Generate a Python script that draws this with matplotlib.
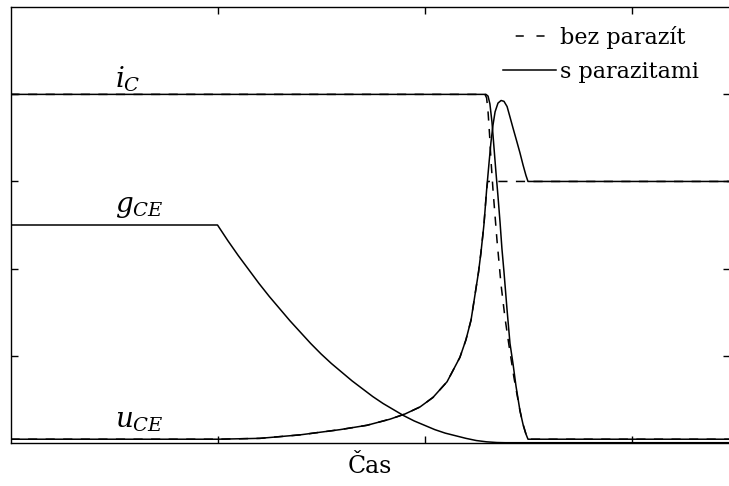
import matplotlib.pyplot as plt
import numpy as np

plt.rcParams['font.family'] = ['DejaVu Serif']
plt.rcParams['mathtext.fontset'] = 'dejavuserif'

# values (time in tick units, amplitude in tick units)
t_g = [0.0, 1.0, 1.05, 1.1, 1.15, 1.2, 1.25, 1.3, 1.35, 1.4, 1.45, 1.5, 1.55,
       1.6, 1.65, 1.7, 1.75, 1.8, 1.85, 1.9, 1.95, 2.0, 2.05, 2.1, 2.15, 2.2,
       2.25, 2.3, 2.35, 2.39, 3.5]
g_ce = [2.5, 2.5, 2.32, 2.15, 1.99, 1.83, 1.68, 1.54, 1.40, 1.27, 1.14, 1.02,
        0.91, 0.81, 0.71, 0.62, 0.53, 0.45, 0.38, 0.31, 0.25, 0.20, 0.15,
        0.11, 0.08, 0.05, 0.025, 0.01, 0.002, 0.0, 0.0]

t_u = [0.0, 1.0, 1.205, 1.399, 1.592, 1.722, 1.833, 1.906, 1.978, 2.041,
       2.109, 2.171, 2.200, 2.225, 2.244, 2.261, 2.273, 2.287, 2.300, 2.312,
       2.321, 2.331, 2.341, 2.355, 2.370, 2.384, 2.399, 2.413, 2.428, 2.447,
       2.461, 2.476, 2.490, 2.500, 3.5]
u_ce = [0.04, 0.04, 0.05, 0.09, 0.15, 0.20, 0.27, 0.33, 0.41, 0.52,
        0.70, 0.98, 1.18, 1.41, 1.70, 1.96, 2.19, 2.50, 2.90, 3.22,
        3.45, 3.65, 3.80, 3.90, 3.93, 3.92, 3.86, 3.74, 3.61, 3.45,
        3.33, 3.19, 3.07, 3.00, 3.00]

t_u_id = [0.0, 1.0, 1.205, 1.399, 1.592, 1.722, 1.833, 1.906, 1.978, 2.041,
          2.109, 2.171, 2.200, 2.225, 2.244, 2.261, 2.273, 2.287, 2.300,
          2.305, 3.5]
u_ce_id = [0.04, 0.04, 0.05, 0.09, 0.15, 0.20, 0.27, 0.33, 0.41, 0.52,
           0.70, 0.98, 1.18, 1.41, 1.70, 1.96, 2.19, 2.50, 2.90,
           3.00, 3.00]

t_i = [0.0, 2.297, 2.307, 2.316, 2.326, 2.336, 2.345, 2.355, 2.365, 2.374,
       2.384, 2.399, 2.413, 2.428, 2.442, 2.461, 2.476, 2.490, 2.500, 3.5]
i_c = [4.0, 4.0, 3.98, 3.89, 3.68, 3.38, 3.11, 2.83, 2.53, 2.23,
       1.96, 1.52, 1.14, 0.90, 0.65, 0.37, 0.21, 0.10, 0.04, 0.04]

t_i_id = [0.0, 2.292, 2.300, 2.307, 2.314, 2.321, 2.331, 2.341, 2.350, 2.370,
          2.389, 2.408, 2.432, 2.461, 2.476, 2.490, 2.500, 3.5]
i_c_id = [4.0, 4.0, 3.96, 3.80, 3.55, 3.25, 2.90, 2.60, 2.33, 1.81,
          1.43, 1.12, 0.75, 0.37, 0.21, 0.10, 0.04, 0.04]

fig = plt.figure(figsize=(7.29, 4.86), dpi=100)
W, H = 729, 486
left, right, top, bottom = 10.5, 730, 7.3, 442.7
ax = fig.add_axes([left / W, 1 - bottom / H, (right - left) / W, (bottom - top) / H])

dash = (0, (6, 5.5))
lw = 1.1
ax.plot(t_i_id, i_c_id, color='black', lw=lw, linestyle=dash, label='bez parazít')
ax.plot(t_i, i_c, color='black', lw=lw, label='s parazitami')
ax.plot(t_u_id, u_ce_id, color='black', lw=lw, linestyle=dash)
ax.plot(t_u, u_ce, color='black', lw=lw)
ax.plot(t_g, g_ce, color='black', lw=lw)

ax.set_xlim(0, (right - left) / 207)
ax.set_ylim(0, 5)
ax.set_xticks([1, 2, 3])
ax.set_yticks([1, 2, 3, 4])
ax.tick_params(direction='in', length=5, width=1, top=True, right=True,
               labelbottom=False, labelleft=False)
for s in ax.spines.values():
    s.set_linewidth(1)

ax.text(0.505, 4.084, '$i_C$', fontsize=20, ha='left', va='baseline')
ax.text(0.505, 2.649, '$g_{CE}$', fontsize=20, ha='left', va='baseline')
ax.text(0.505, 0.18, '$u_{CE}$', fontsize=20, ha='left', va='baseline')

ax.set_xlabel('Čas', fontsize=17, labelpad=9)

leg = ax.legend(loc='upper right', frameon=False, fontsize=16, handlelength=2.4,
                handletextpad=0.2, labelspacing=0.54, borderaxespad=0.3,
                bbox_to_anchor=(0.979, 0.993))
# legend dash handle: gap, dash, gap, dash, gap
leg.get_lines()[0].set_linestyle((5.3, (5.3, 8.3)))

fig.savefig('out.png', dpi=100)
